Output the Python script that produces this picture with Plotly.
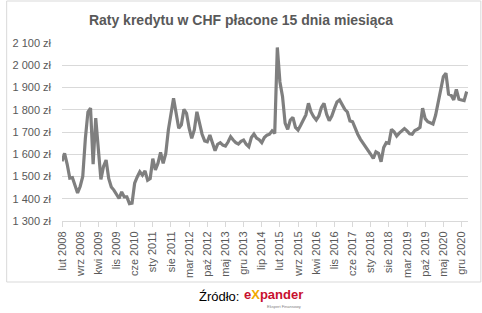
import plotly.graph_objects as go

# Monthly instalment (zł), Feb 2008 .. Feb 2021
values = [
    1568, 1604, 1555, 1493, 1495, 1462, 1426, 1455, 1500, 1670,
    1790, 1807, 1555, 1762, 1605, 1487, 1545, 1574, 1491, 1453,
    1439, 1416, 1401, 1431, 1408, 1408, 1378, 1380, 1470, 1498,
    1521, 1506, 1525, 1483, 1491, 1580, 1530, 1560, 1608, 1559,
    1604, 1709, 1784, 1852, 1784, 1717, 1732, 1802, 1784, 1717,
    1672, 1709, 1791, 1740, 1690, 1660, 1656, 1686, 1649, 1616,
    1645, 1652, 1641, 1637, 1655, 1679, 1664, 1652, 1646, 1658,
    1664, 1645, 1634, 1675, 1691, 1673, 1665, 1652, 1675, 1686,
    1690, 1705, 1694, 2080, 1925, 1860, 1740, 1712, 1754, 1766,
    1721, 1709, 1730, 1754, 1777, 1829, 1790, 1769, 1754, 1772,
    1810, 1829, 1780, 1751, 1772, 1805, 1835, 1844, 1822, 1802,
    1790, 1750, 1746, 1715, 1690, 1668, 1652, 1634, 1620, 1600,
    1581, 1611, 1604, 1566, 1630, 1652, 1649, 1712, 1701, 1682,
    1695, 1705, 1715, 1705, 1692, 1690, 1707, 1712, 1721, 1807,
    1760, 1746, 1739, 1736, 1775, 1835, 1900, 1949, 1964, 1870,
    1865, 1844, 1892, 1847, 1844, 1841, 1882,
]

month_names = ["sty", "lut", "mar", "kwi", "maj", "cze", "lip", "sie", "wrz", "paź", "lis", "gru"]
start_year, start_month = 2008, 2  # lut 2008
categories = []
for i in range(len(values)):
    mi = start_month - 1 + i
    categories.append(f"{month_names[mi % 12]} {start_year + mi // 12}")

tick_labels = ["lut 2008", "wrz 2008", "kwi 2009", "lis 2009", "cze 2010", "sty 2011",
               "sie 2011", "mar 2012", "paź 2012", "maj 2013", "gru 2013", "lip 2014",
               "lut 2015", "wrz 2015", "kwi 2016", "lis 2016", "cze 2017", "sty 2018",
               "sie 2018", "mar 2019", "paź 2019", "maj 2020", "gru 2020"]
y_ticks = [1300, 1400, 1500, 1600, 1700, 1800, 1900, 2000, 2100]
y_tick_text = ["1 300 zł", "1 400 zł", "1 500 zł", "1 600 zł", "1 700 zł",
               "1 800 zł", "1 900 zł", "2 000 zł", "2 100 zł"]

x_idx = list(range(len(values)))
tick_pos = [categories.index(t) for t in tick_labels]

W, H = 482, 313
ML, MR, MT, MB = 57, 14, 43, 92
pw, ph = W - ML - MR, H - MT - MB

def px(x):
    return (x - ML) / pw

def py(y):
    return (H - MB - y) / ph

fig = go.Figure()
fig.add_trace(go.Scatter(
    x=x_idx, y=values, mode="lines",
    line=dict(color="#7f7f7f", width=3.2),
    customdata=categories,
    hovertemplate="%{customdata}: %{y} zł<extra></extra>",
))

fig.update_layout(
    width=W, height=H,
    margin=dict(l=ML, r=MR, t=MT, b=MB),
    paper_bgcolor="white", plot_bgcolor="white",
    showlegend=False,
    font=dict(family="Liberation Sans, Arial, sans-serif", color="#595959", size=11),
    title=dict(text="<b>Raty kredytu w CHF płacone 15 dnia miesiąca</b>",
               x=241 / W, xref="container", xanchor="center",
               y=1 - 20 / H, yref="container", yanchor="middle",
               font=dict(size=14, color="#595959")),
    xaxis=dict(range=[0, 156.5], tickmode="array", tickvals=tick_pos, ticktext=tick_labels,
               tickangle=-90, showgrid=False, zeroline=False,
               showline=True, linecolor="#d9d9d9", linewidth=1,
               ticks="outside", ticklen=5, tickcolor="#d9d9d9",
               tickfont=dict(size=11, color="#595959")),
    yaxis=dict(range=[1300, 2100], tickmode="array", tickvals=y_ticks, ticktext=y_tick_text,
               showgrid=True, gridcolor="#d9d9d9", gridwidth=1, zeroline=False,
               showline=False, ticks="", ticklabelstandoff=10,
               tickfont=dict(size=11, color="#595959")),
)

# outer chart border
fig.add_shape(type="rect", xref="paper", yref="paper",
              x0=px(1), x1=px(481), y0=py(282), y1=py(1),
              line=dict(color="#d9d9d9", width=1), fillcolor="rgba(0,0,0,0)", layer="below")

# source line
fig.add_annotation(xref="paper", yref="paper", x=px(238), y=py(296),
                   xanchor="right", yanchor="middle", showarrow=False,
                   text="Źródło:", font=dict(size=13, color="#000000"))
fig.add_annotation(xref="paper", yref="paper", x=px(239), y=py(294),
                   xanchor="left", yanchor="middle", showarrow=False,
                   text="<b><span style='color:#c8102e'>e</span><span style='color:#f2a900'>X</span><span style='color:#c8102e'>pander</span></b>",
                   font=dict(size=13, family="Liberation Sans, Arial, sans-serif"))
fig.add_annotation(xref="paper", yref="paper", x=px(301), y=py(306),
                   xanchor="right", yanchor="middle", showarrow=False,
                   text="Ekspert Finansowy", font=dict(size=4, color="#808080"))

fig.write_html("out.html")
